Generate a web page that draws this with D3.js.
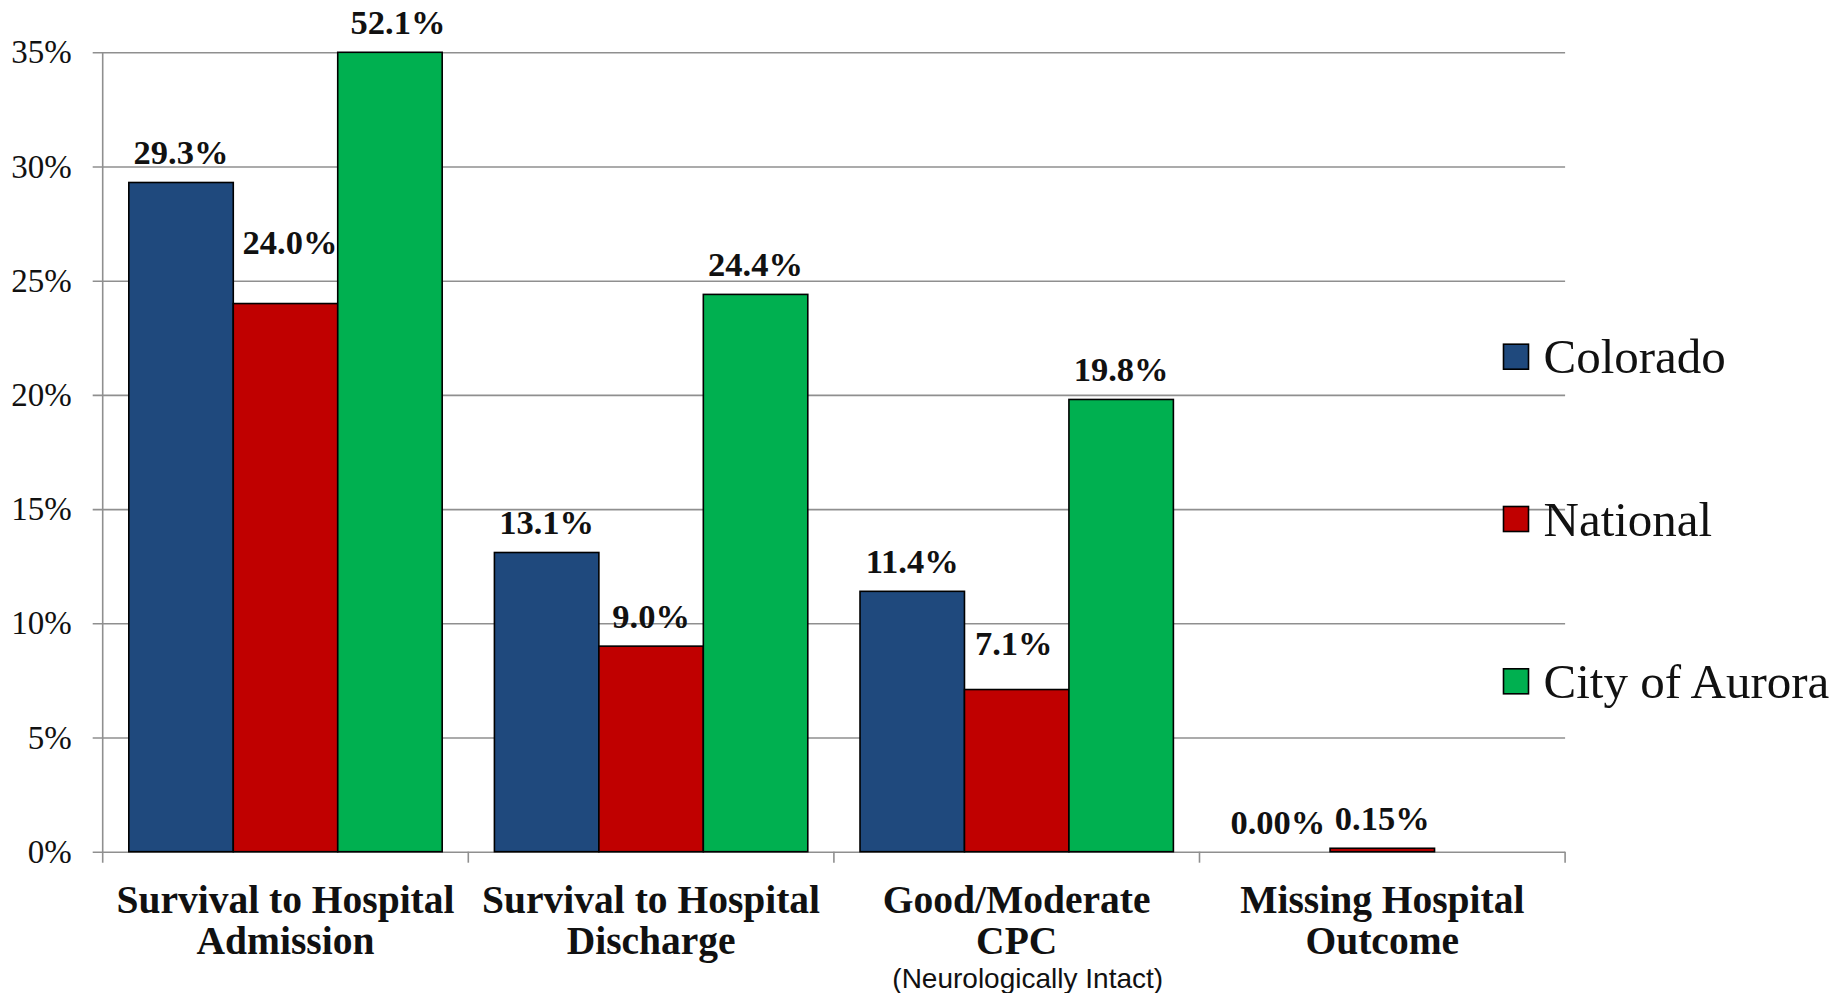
<!DOCTYPE html>
<html>
<head>
<meta charset="utf-8">
<script src="https://cdn.jsdelivr.net/npm/d3@7"></script>
<style>
  html, body { margin: 0; padding: 0; background: #ffffff; }
  svg { display: block; }
</style>
</head>
<body>
<svg id="chart" width="1843" height="993"></svg>
<script>
// ---- data ----
const categories = ["Survival to Hospital Admission", "Survival to Hospital Discharge", "Good/Moderate CPC", "Missing Hospital Outcome"];
const categoryLines = [["Survival to Hospital", "Admission"], ["Survival to Hospital", "Discharge"], ["Good/Moderate", "CPC"], ["Missing Hospital", "Outcome"]];
const categoryNotes = ["", "", "(Neurologically Intact)", ""];
const seriesNames = ["Colorado", "National", "City of Aurora"];
const colorado = [29.3, 13.1, 11.4, 0.00];
const national = [24.0, 9.0, 7.1, 0.15];
const aurora = [52.1, 24.4, 19.8, null];
const seriesColors = ["#1F497D", "#C00000", "#00B050"];
const yTicks = [0, 5, 10, 15, 20, 25, 30, 35];
const yTickLabels = ["0%", "5%", "10%", "15%", "20%", "25%", "30%", "35%"];

(function () {
const seriesValues = [colorado, national, aurora];
const table = categories.map((c, i) => ({
  category: c,
  values: seriesNames.map((s, j) => ({ series: s, value: seriesValues[j][i], color: seriesColors[j], ci: i }))
}));

// ---- layout ----
const plotL = 102.7, plotR = 1565.1, plotT = 52.3, plotB = 851.7;
const svg = d3.select("#chart");
const serif = "'Liberation Serif', 'DejaVu Serif', serif";
const axisColor = "#8f8f8f";

const x0 = d3.scaleBand().domain(categories).range([plotL, plotR]).paddingInner(0).paddingOuter(0);
const x1 = d3.scaleBand().domain(seriesNames).range([0, x0.bandwidth()]).paddingInner(0).paddingOuter(0.25);
const y = d3.scaleLinear().domain([0, 35]).range([plotB, plotT]).clamp(true);

// gridlines + y ticks
const yAxis = d3.axisLeft(y)
  .tickValues(yTicks)
  .tickFormat((d, i) => yTickLabels[i])
  .tickSizeInner(-(plotR - plotL + 10))
  .tickSizeOuter(0)
  .tickPadding(21);
const gy = svg.append("g").attr("transform", `translate(${plotL - 10},0)`).call(yAxis);
gy.select(".domain").remove();
gy.selectAll(".tick line").attr("stroke", axisColor).attr("stroke-width", 1.6);
gy.selectAll(".tick text")
  .attr("font-family", serif).attr("font-size", 33).attr("fill", "#111");

// y axis line
svg.append("line")
  .attr("x1", plotL).attr("x2", plotL).attr("y1", plotT).attr("y2", plotB + 11)
  .attr("stroke", axisColor).attr("stroke-width", 1.6);

// category ticks
const boundaries = categories.map(c => x0(c)).concat([x0(categories[categories.length - 1]) + x0.bandwidth()]);
svg.append("g").selectAll("line").data(boundaries.slice(1)).join("line")
  .attr("x1", d => d).attr("x2", d => d).attr("y1", plotB).attr("y2", plotB + 11)
  .attr("stroke", axisColor).attr("stroke-width", 1.6);

// bars
const groups = svg.append("g").selectAll("g").data(table).join("g")
  .attr("transform", d => `translate(${x0(d.category)},0)`);

groups.selectAll("rect").data(d => d.values.filter(v => v.value !== null)).join("rect")
  .attr("x", d => x1(d.series))
  .attr("y", d => y(d.value))
  .attr("width", x1.bandwidth())
  .attr("height", d => plotB - y(d.value))
  .attr("fill", d => d.color)
  .attr("stroke", d => d.value > 0 ? "#000" : "none")
  .attr("stroke-width", 1.6);

// value labels (manual nudges mimic the reference's hand-placed labels)
const labelNudge = {
  "0|National": { dx: 4.5, dy: -32 },
  "0|City of Aurora": { dx: 8, dy: 0 },
  "2|National": { dx: -3, dy: -17 }
};
groups.selectAll("text.val").data(d => d.values.filter(v => v.value !== null)).join("text")
  .attr("class", "val")
  .attr("x", d => x1(d.series) + x1.bandwidth() / 2 + ((labelNudge[d.ci + "|" + d.series] || {}).dx || 0))
  .attr("y", d => y(d.value) - 18 + ((labelNudge[d.ci + "|" + d.series] || {}).dy || 0))
  .attr("text-anchor", "middle")
  .attr("font-family", serif).attr("font-weight", "bold").attr("font-size", 34.5).attr("fill", "#111")
  .text(d => (d.value < 1 ? d.value.toFixed(2) : d.value.toFixed(1)) + "%");

// category labels
const catG = svg.append("g").selectAll("g").data(categories).join("g")
  .attr("transform", c => `translate(${x0(c) + x0.bandwidth() / 2},0)`);
catG.each(function (c, i) {
  const g = d3.select(this);
  categoryLines[i].forEach((line, k) => {
    g.append("text")
      .attr("x", 0).attr("y", 913 + k * 41)
      .attr("text-anchor", "middle")
      .attr("font-family", serif).attr("font-weight", "bold").attr("font-size", 39.5).attr("fill", "#111")
      .text(line);
  });
  if (categoryNotes[i]) {
    g.append("text")
      .attr("x", 11).attr("y", 988)
      .attr("text-anchor", "middle")
      .attr("font-family", "'Liberation Sans', Arial, sans-serif").attr("font-size", 28).attr("fill", "#111")
      .text(categoryNotes[i]);
  }
});

// legend
const legendY = d3.scalePoint().domain(seriesNames).range([356.7, 681.3]);
const lg = svg.append("g").selectAll("g").data(seriesNames).join("g")
  .attr("transform", s => `translate(1503.5,${legendY(s)})`);
lg.append("rect")
  .attr("x", 0).attr("y", -12.5).attr("width", 25).attr("height", 25)
  .attr("fill", (s, i) => seriesColors[i]).attr("stroke", "#000").attr("stroke-width", 1.6);
lg.append("text")
  .attr("x", 40).attr("y", 16.5)
  .attr("font-family", serif).attr("font-size", 49).attr("fill", "#111")
  .text(s => s);
})();
</script>
</body>
</html>
